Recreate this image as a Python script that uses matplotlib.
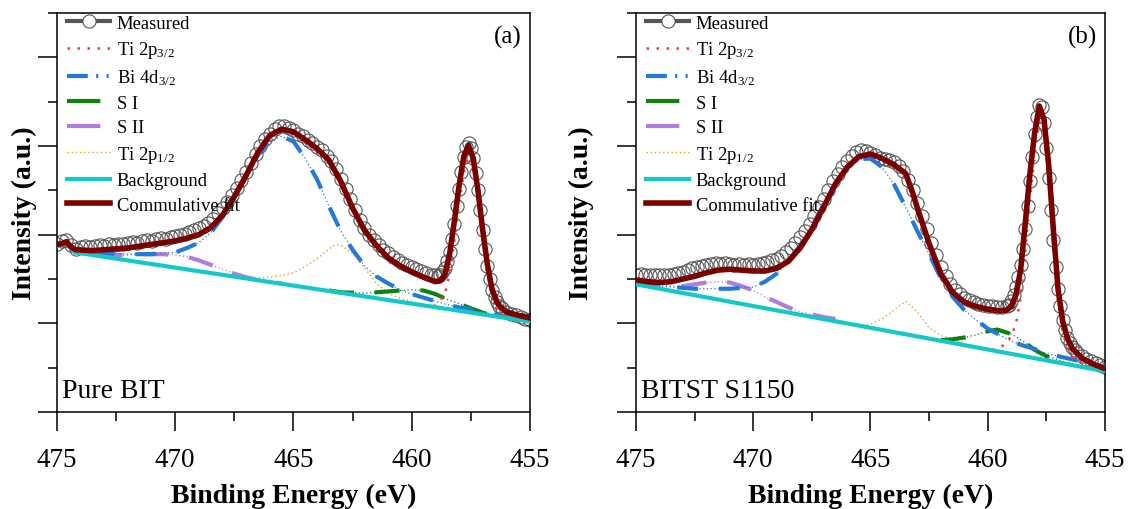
import numpy as np
import matplotlib
matplotlib.use("Agg")
import matplotlib.pyplot as plt
from matplotlib.lines import Line2D
from matplotlib.ticker import MultipleLocator

plt.rcParams['font.family'] = ['Liberation Serif', 'DejaVu Serif']
plt.rcParams['mathtext.fontset'] = 'stix'

# ---------------- panel (a) : Pure BIT ----------------
meas_a_E = [475.0, 474.8, 474.6, 474.4, 474.2, 474.0, 473.8, 473.6, 473.4, 473.2, 473.0, 472.8, 472.6, 472.4, 472.2,
            472.0, 471.8, 471.6, 471.4, 471.2, 471.0, 470.8, 470.6, 470.4, 470.2, 470.0, 469.8, 469.6, 469.4, 469.2,
            469.0, 468.8, 468.6, 468.4, 468.2, 468.0, 467.8, 467.6, 467.4, 467.2, 467.0, 466.8, 466.6, 466.4, 466.2,
            466.0, 465.8, 465.6, 465.4, 465.2, 465.0, 464.8, 464.6, 464.4, 464.2, 464.0, 463.8, 463.6, 463.4, 463.2,
            463.0, 462.8, 462.6, 462.4, 462.2, 462.0, 461.8, 461.6, 461.4, 461.2, 461.0, 460.8, 460.6, 460.4, 460.2,
            460.0, 459.8, 459.6, 459.4, 459.2, 459.0, 458.9, 458.8, 458.7, 458.6, 458.5, 458.4, 458.3, 458.2, 458.1,
            458.0, 457.9, 457.8, 457.7, 457.6, 457.5, 457.4, 457.3, 457.2, 457.1, 457.0, 456.9, 456.8, 456.7, 456.6,
            456.5, 456.4, 456.3, 456.2, 456.0, 455.8, 455.6, 455.4, 455.2, 455.0]
meas_a = [1.90, 1.93, 1.94, 1.88, 1.84, 1.86, 1.87, 1.86, 1.87, 1.88, 1.87, 1.89, 1.88, 1.90, 1.89,
          1.91, 1.92, 1.91, 1.93, 1.94, 1.93, 1.95, 1.96, 1.95, 1.97, 1.98, 2.00, 2.01, 2.03, 2.05,
          2.07, 2.10, 2.13, 2.18, 2.24, 2.30, 2.37, 2.45, 2.53, 2.62, 2.71, 2.81, 2.91, 3.00, 3.08,
          3.14, 3.19, 3.22, 3.22, 3.20, 3.18, 3.14, 3.11, 3.07, 3.03, 2.99, 2.95, 2.89, 2.83, 2.74,
          2.63, 2.52, 2.40, 2.28, 2.17, 2.08, 2.00, 1.94, 1.88, 1.83, 1.79, 1.75, 1.71, 1.68, 1.66,
          1.63, 1.61, 1.59, 1.57, 1.55, 1.54, 1.53, 1.55, 1.58, 1.62, 1.70, 1.80, 1.95, 2.12, 2.32,
          2.52, 2.71, 2.88, 2.99, 3.03, 2.98, 2.86, 2.70, 2.50, 2.28, 2.05, 1.84, 1.65, 1.50, 1.38,
          1.30, 1.24, 1.20, 1.17, 1.13, 1.11, 1.09, 1.07, 1.05, 1.04]

fit_a_E = [475.0, 474.8, 474.6, 474.4, 474.2, 473.5, 473.0, 472.0, 471.0, 470.0, 469.5, 469.0, 468.5, 468.0, 467.5,
           467.0, 466.5, 466.0, 465.5, 465.0, 464.5, 464.0, 463.5, 463.0, 462.5, 462.0, 461.5, 461.0, 460.5, 460.0,
           459.5, 459.0, 458.8, 458.6, 458.4, 458.2, 458.0, 457.8, 457.6, 457.4, 457.2, 457.0, 456.8, 456.6, 456.4,
           456.2, 456.0, 455.5, 455.0]
fit_a = [1.89, 1.90, 1.92, 1.86, 1.83, 1.82, 1.83, 1.85, 1.89, 1.93, 1.96, 2.00, 2.08, 2.22, 2.43,
         2.67, 2.93, 3.12, 3.19, 3.16, 3.07, 2.97, 2.84, 2.60, 2.30, 2.05, 1.88, 1.74, 1.65, 1.58,
         1.52, 1.47, 1.48, 1.55, 1.78, 2.15, 2.55, 2.88, 3.01, 2.86, 2.50, 2.05, 1.66, 1.38, 1.24,
         1.17, 1.13, 1.09, 1.06]

bg_a_E = [475.0, 474.6, 474.24, 455.0]
bg_a = [1.87, 1.91, 1.80, 1.02]

ti32_a_E = [459.5, 459.0, 458.8, 458.6, 458.4, 458.2, 458.0, 457.8, 457.6, 457.4, 457.2, 457.0, 456.8, 456.6, 456.4,
            456.2, 456.0, 455.5]
ti32_a = [1.20, 1.20, 1.26, 1.33, 1.55, 1.93, 2.35, 2.70, 2.88, 2.75, 2.40, 1.95, 1.55, 1.28, 1.15,
          1.10, 1.08, 1.06]

bi_a_E = [475.0, 474.6, 474.24, 473.0, 472.0, 471.0, 470.0, 469.5, 469.0, 468.5, 468.0, 467.5, 467.0, 466.5, 466.0,
          465.5, 465.0, 464.5, 464.0, 463.5, 463.0, 462.5, 462.0, 461.5, 461.0, 460.5, 460.0, 459.5, 459.0, 458.5,
          458.0, 457.5, 457.0, 456.5, 456.0, 455.5, 455.0]
bi_a = [1.87, 1.91, 1.80, 1.79, 1.78, 1.78, 1.80, 1.85, 1.91, 2.02, 2.20, 2.42, 2.66, 2.90, 3.05,
        3.11, 3.05, 2.86, 2.62, 2.32, 2.04, 1.83, 1.65, 1.53, 1.45, 1.38, 1.33, 1.29, 1.25, 1.21,
        1.18, 1.16, 1.13, 1.10, 1.08, 1.06, 1.04]

s1_a_E = [463.5, 463.0, 462.0, 461.5, 461.0, 460.5, 460.0, 459.5, 459.0, 458.5, 458.0, 457.5, 457.0, 456.5]
s1_a = [1.37, 1.35, 1.34, 1.35, 1.36, 1.37, 1.38, 1.37, 1.33, 1.27, 1.22, 1.17, 1.12, 1.08]

s2_a_E = [475.0, 474.6, 474.24, 473.5, 473.0, 472.5, 472.0, 471.5, 471.0, 470.5, 470.0, 469.5, 469.0, 468.5, 468.0,
          467.5, 467.0, 466.5, 466.0, 465.5]
s2_a = [1.87, 1.91, 1.80, 1.77, 1.77, 1.77, 1.77, 1.78, 1.78, 1.78, 1.77, 1.75, 1.71, 1.66, 1.61,
        1.56, 1.52, 1.49, 1.47, 1.45]

ti12_a_E = [467.0, 466.0, 465.5, 465.0, 464.5, 464.0, 463.5, 463.2, 463.0, 462.5, 462.0, 461.5, 461.0, 460.5, 460.0,
            459.5, 459.0]
ti12_a = [1.51, 1.52, 1.54, 1.57, 1.64, 1.73, 1.84, 1.89, 1.88, 1.79, 1.63, 1.45, 1.34, 1.28, 1.25,
          1.21, 1.19]

# ---------------- panel (b) : BITST S1150 ----------------
meas_b_E = [475.0, 474.8, 474.6, 474.4, 474.2, 474.0, 473.8, 473.6, 473.4, 473.2, 473.0, 472.8, 472.6, 472.4, 472.2,
            472.0, 471.8, 471.6, 471.4, 471.2, 471.0, 470.8, 470.6, 470.4, 470.2, 470.0, 469.8, 469.6, 469.4, 469.2,
            469.0, 468.8, 468.6, 468.4, 468.2, 468.0, 467.8, 467.6, 467.4, 467.2, 467.0, 466.8, 466.6, 466.4, 466.2,
            466.0, 465.8, 465.6, 465.4, 465.2, 465.0, 464.8, 464.6, 464.4, 464.2, 464.0, 463.8, 463.6, 463.4, 463.2,
            463.0, 462.8, 462.6, 462.4, 462.2, 462.0, 461.8, 461.6, 461.4, 461.2, 461.0, 460.8, 460.6, 460.4, 460.2,
            460.0, 459.8, 459.6, 459.4, 459.2, 459.1, 459.0, 458.9, 458.8, 458.7, 458.6, 458.5, 458.4, 458.3, 458.2,
            458.1, 458.0, 457.9, 457.8, 457.7, 457.6, 457.5, 457.4, 457.3, 457.2, 457.1, 457.0, 456.9, 456.8, 456.7,
            456.6, 456.5, 456.4, 456.3, 456.2, 456.0, 455.8, 455.6, 455.4, 455.2, 455.0]
meas_b = [1.55, 1.56, 1.55, 1.54, 1.55, 1.54, 1.55, 1.54, 1.56, 1.57, 1.58, 1.60, 1.62, 1.63, 1.65,
          1.66, 1.67, 1.68, 1.67, 1.68, 1.67, 1.66, 1.67, 1.66, 1.67, 1.66, 1.67, 1.68, 1.69, 1.71,
          1.73, 1.76, 1.80, 1.85, 1.91, 1.97, 2.04, 2.12, 2.21, 2.31, 2.40, 2.50, 2.60, 2.68, 2.76,
          2.83, 2.89, 2.93, 2.95, 2.94, 2.92, 2.90, 2.87, 2.85, 2.84, 2.82, 2.78, 2.72, 2.62, 2.50,
          2.36, 2.21, 2.06, 1.91, 1.77, 1.64, 1.53, 1.44, 1.38, 1.33, 1.29, 1.26, 1.24, 1.22, 1.21,
          1.20, 1.19, 1.18, 1.18, 1.19, 1.21, 1.25, 1.32, 1.41, 1.52, 1.66, 1.84, 2.06, 2.32, 2.60,
          2.88, 3.13, 3.33, 3.46, 3.44, 3.26, 2.98, 2.64, 2.28, 1.94, 1.64, 1.39, 1.19, 1.04, 0.92,
          0.84, 0.78, 0.73, 0.70, 0.67, 0.63, 0.60, 0.57, 0.55, 0.53, 0.51]

fit_b_E = [475.0, 474.5, 474.0, 473.5, 473.0, 472.5, 472.0, 471.5, 471.0, 470.5, 470.0, 469.5, 469.0, 468.5, 468.0,
           467.5, 467.0, 466.5, 466.0, 465.5, 465.0, 464.5, 464.0, 463.5, 463.2, 463.0, 462.5, 462.0, 461.5, 461.0,
           460.5, 460.0, 459.5, 459.2, 459.0, 458.8, 458.6, 458.4, 458.2, 458.0, 457.8, 457.6, 457.4, 457.2, 457.0,
           456.8, 456.6, 456.4, 456.0, 455.5, 455.0]
fit_b = [1.49, 1.47, 1.46, 1.47, 1.50, 1.53, 1.57, 1.60, 1.61, 1.60, 1.59, 1.59, 1.62, 1.70, 1.85,
         2.06, 2.31, 2.57, 2.76, 2.88, 2.91, 2.86, 2.79, 2.69, 2.47, 2.30, 1.90, 1.56, 1.35, 1.24,
         1.19, 1.16, 1.14, 1.15, 1.19, 1.32, 1.60, 2.13, 2.69, 3.15, 3.45, 3.30, 2.78, 2.05, 1.38,
         1.02, 0.83, 0.72, 0.61, 0.54, 0.49]

bg_b_E = [475.0, 455.0]
bg_b = [1.44, 0.46]

ti32_b_E = [459.8, 459.5, 459.2, 459.0, 458.8, 458.6, 458.4, 458.2, 458.0, 457.8, 457.6, 457.4, 457.2, 457.0, 456.8,
            456.6, 456.4, 456.0, 455.5, 455.0]
ti32_b = [0.70, 0.72, 0.78, 0.86, 0.99, 1.28, 1.82, 2.40, 2.90, 3.28, 3.12, 2.58, 1.88, 1.25, 0.90,
          0.72, 0.62, 0.55, 0.51, 0.47]

bi_b_E = [475.0, 474.5, 474.0, 473.5, 473.0, 472.5, 472.0, 471.5, 471.0, 470.5, 470.0, 469.5, 469.0, 468.5, 468.0,
          467.5, 467.0, 466.5, 466.0, 465.5, 465.0, 464.5, 464.0, 463.5, 463.0, 462.5, 462.0, 461.5, 461.0, 460.5,
          460.0, 459.5, 459.0, 458.5, 458.0, 457.5, 457.0, 456.5, 456.0, 455.5, 455.0]
bi_b = [1.46, 1.44, 1.42, 1.41, 1.40, 1.39, 1.39, 1.39, 1.39, 1.40, 1.41, 1.47, 1.56, 1.70, 1.88,
        2.09, 2.34, 2.58, 2.76, 2.85, 2.86, 2.76, 2.57, 2.31, 2.04, 1.78, 1.51, 1.30, 1.15, 1.04,
        0.94, 0.87, 0.80, 0.75, 0.71, 0.66, 0.63, 0.60, 0.57, 0.53, 0.50]

s1_b_E = [462.0, 461.5, 461.0, 460.5, 460.0, 459.6, 459.0, 458.5, 458.0, 457.5, 457.0, 456.5]
s1_b = [0.81, 0.82, 0.84, 0.87, 0.91, 0.93, 0.88, 0.80, 0.70, 0.63, 0.59, 0.54]

s2_b_E = [475.0, 474.5, 474.0, 473.5, 473.0, 472.5, 472.0, 471.5, 471.0, 470.5, 470.0, 469.5, 469.0, 468.5, 468.0,
          467.5, 467.0, 466.5]
s2_b = [1.46, 1.46, 1.44, 1.42, 1.42, 1.44, 1.46, 1.47, 1.46, 1.42, 1.37, 1.30, 1.24, 1.18, 1.13,
        1.10, 1.07, 1.05]

ti12_b_E = [465.5, 465.0, 464.5, 464.0, 463.5, 463.0, 462.5, 462.0, 461.5, 461.0]
ti12_b = [0.97, 0.99, 1.05, 1.15, 1.25, 1.13, 0.95, 0.86, 0.82, 0.78]

labels = ['Measured', 'Ti 2p$\\mathregular{_{3/2}}$', 'Bi 4d$\\mathregular{_{3/2}}$', 'S I', 'S II',
          'Ti 2p$\\mathregular{_{1/2}}$', 'Background', 'Commulative fit']

c_meas = '#555555'
c_ti32 = '#F03C3C'
c_bi = '#2378DC'
c_s1 = '#108010'
c_s2 = '#B07CE0'
c_ti12 = '#E6A020'
c_bg = '#12C8C8'
c_fit = '#7A0000'

dash_bi = (0, (5, 5))
dash_s = (0, (6, 5))


def component(ax, x, y, color, dash):
    # thick dashes joined by a thin dotted trace, as in the original fit plot
    ax.plot(x, y, color=color, ls=(0, (1, 2)), lw=0.9, zorder=3)
    ax.plot(x, y, color=color, ls=dash, lw=3, zorder=3)


def draw_panel(ax, d, tag, name, ylab_x):
    ax.plot(d['meas_E'], d['meas'], ls='none', marker='o', ms=9.5, mfc='none', mec=c_meas, mew=0.8, zorder=2)
    ax.plot(d['ti12_E'], d['ti12'], color=c_ti12, ls=(0, (1, 2)), lw=1.0, zorder=3)
    component(ax, d['s2_E'], d['s2'], c_s2, dash_s)
    component(ax, d['s1_E'], d['s1'], c_s1, dash_s)
    component(ax, d['bi_E'], d['bi'], c_bi, dash_bi)
    ax.plot(d['ti32_E'], d['ti32'], color=c_ti32, ls=(0, (1, 3)), lw=1.8, zorder=3)
    ax.plot(d['bg_E'], d['bg'], color=c_bg, lw=3, zorder=4)
    ax.plot(d['fit_E'], d['fit'], color=c_fit, lw=4, zorder=5)

    ax.set_xlim(475, 455)
    ax.set_ylim(0, 4.5)
    ax.xaxis.set_major_locator(MultipleLocator(5))
    ax.xaxis.set_minor_locator(MultipleLocator(2.5))
    ax.yaxis.set_major_locator(MultipleLocator(1))
    ax.yaxis.set_minor_locator(MultipleLocator(0.5))
    ax.tick_params(which='major', direction='out', length=13.5, width=1.1, labelsize=19.5, pad=12)
    ax.tick_params(which='minor', direction='out', length=6.5, width=1.1)
    ax.tick_params(axis='y', labelleft=False)
    for s in ax.spines.values():
        s.set_linewidth(1.1)

    ax.set_xlabel('Binding Energy (eV)', fontsize=20, fontweight='bold')
    ax.xaxis.set_label_coords(0.5, -0.178)
    ax.set_ylabel('Intensity (a.u.)', fontsize=20, fontweight='bold')
    ax.yaxis.set_label_coords(ylab_x, 0.5)

    ax.text(0.953, 0.94, tag, transform=ax.transAxes, fontsize=18, ha='center', va='center')
    ax.text(0.011, 0.053, name, transform=ax.transAxes, fontsize=20, ha='left', va='center')

    handles = [
        Line2D([], [], color=c_meas, lw=3, marker='o', ms=9.5, mfc='white', mec=c_meas, mew=0.8),
        Line2D([], [], color=c_ti32, ls=(0, (1, 3)), lw=1.8),
        Line2D([], [], color=c_bi, ls=(0, (5, 2, 0.5, 2, 0.5, 2)), lw=3),
        Line2D([], [], color=c_s1, ls=(0, (8, 8)), lw=3),
        Line2D([], [], color=c_s2, ls=(0, (8, 8)), lw=3),
        Line2D([], [], color=c_ti12, ls=(0, (1, 2)), lw=1.0),
        Line2D([], [], color=c_bg, lw=3),
        Line2D([], [], color=c_fit, lw=4),
    ]
    ax.legend(handles, labels, loc='upper left', bbox_to_anchor=(0.018, 1.0), frameon=False,
              fontsize=13.4, handlelength=2.3, handletextpad=0.35, borderaxespad=0, borderpad=0.1,
              labelspacing=0.4)


data_a = dict(meas_E=meas_a_E, meas=meas_a, fit_E=fit_a_E, fit=fit_a, bg_E=bg_a_E, bg=bg_a,
              ti32_E=ti32_a_E, ti32=ti32_a, bi_E=bi_a_E, bi=bi_a, s1_E=s1_a_E, s1=s1_a,
              s2_E=s2_a_E, s2=s2_a, ti12_E=ti12_a_E, ti12=ti12_a)
data_b = dict(meas_E=meas_b_E, meas=meas_b, fit_E=fit_b_E, fit=fit_b, bg_E=bg_b_E, bg=bg_b,
              ti32_E=ti32_b_E, ti32=ti32_b, bi_E=bi_b_E, bi=bi_b, s1_E=s1_b_E, s1=s1_b,
              s2_E=s2_b_E, s2=s2_b, ti12_E=ti12_b_E, ti12=ti12_b)

fig = plt.figure(figsize=(11.28, 5.1), dpi=100)
ax1 = fig.add_axes([57 / 1128, 97 / 510, 473 / 1128, 399 / 510])
ax2 = fig.add_axes([636 / 1128, 97 / 510, 469 / 1128, 399 / 510])

draw_panel(ax1, data_a, '(a)', 'Pure BIT', -0.042)
draw_panel(ax2, data_b, '(b)', 'BITST S1150', -0.090)

fig.savefig('out.png', dpi=100)
